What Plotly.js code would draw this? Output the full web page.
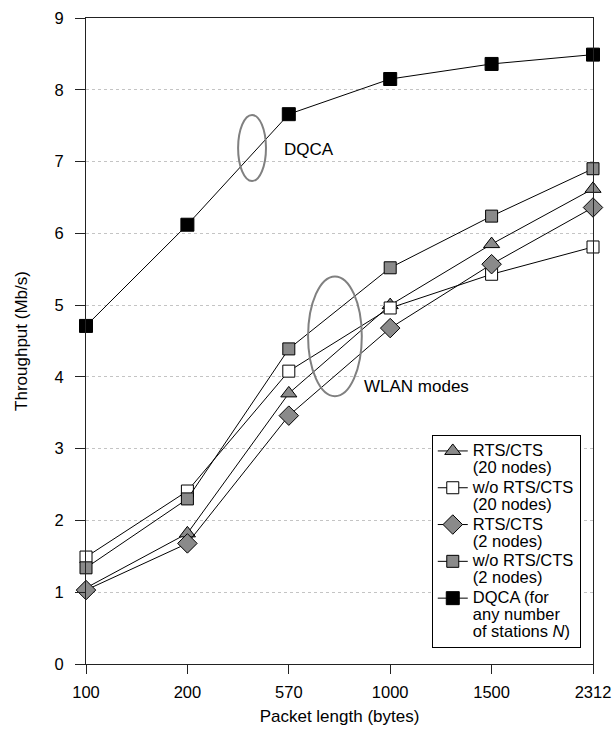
<!DOCTYPE html>
<html>
<head>
<meta charset="utf-8">
<script src="https://cdn.plot.ly/plotly-3.0.1.min.js"></script>
<style>html,body{margin:0;padding:0;background:#fff;}#chart{width:615px;height:729px;}</style>
</head>
<body>
<div id="chart"></div>
<script>
const packetLengths = ['100', '200', '570', '1000', '1500', '2312'];
const rtsCts20 = [1.06, 1.82, 3.77, 5.0, 5.85, 6.62];
const noRtsCts20 = [1.49, 2.41, 4.08, 4.96, 5.43, 5.81];
const rtsCts2 = [1.03, 1.68, 3.46, 4.68, 5.57, 6.36];
const noRtsCts2 = [1.34, 2.30, 4.39, 5.52, 6.24, 6.90];
const dqca = [4.71, 6.12, 7.66, 8.15, 8.36, 8.49];
const yTicks = [0, 1, 2, 3, 4, 5, 6, 7, 8, 9];
const seriesLabels = [
  ['RTS/CTS', '(20 nodes)'],
  ['w/o RTS/CTS', '(20 nodes)'],
  ['RTS/CTS', '(2 nodes)'],
  ['w/o RTS/CTS', '(2 nodes)'],
  ['DQCA (for', 'any number', 'of stations <i>N</i>)']
];

const gray = '#8a8a8a';
function label(lines) {
  return lines.map(l => '<span style="font-size:16.5px">' + l + '</span>').join('<br>');
}
function tr(idx, y, symbol, fill, size) {
  return {
    x: packetLengths, y: y, name: label(seriesLabels[idx]), type: 'scatter', mode: 'lines+markers',
    cliponaxis: false,
    line: {color: '#000', width: 1},
    marker: {symbol: symbol, color: fill, size: size, line: {color: '#000', width: 1}}
  };
}
const data = [
  tr(0, rtsCts20, 'triangle-up', gray, 14),
  tr(1, noRtsCts20, 'square', '#fff', 12),
  tr(2, rtsCts2, 'diamond', gray, 15),
  tr(3, noRtsCts2, 'square', gray, 12),
  tr(4, dqca, 'square', '#000', 13)
];

const layout = {
  width: 615, height: 729,
  margin: {l: 86, r: 22, t: 18, b: 65},
  paper_bgcolor: '#fff', plot_bgcolor: '#fff',
  font: {family: 'Liberation Sans, Arial, sans-serif', size: 16, color: '#000'},
  showlegend: true,
  legend: {
    x: 0.682, y: 0.3545, xanchor: 'left', yanchor: 'top',
    bgcolor: '#fff', bordercolor: '#000', borderwidth: 1,
    font: {size: 13}, valign: 'top', tracegroupgap: 0, itemwidth: 30
  },
  xaxis: {
    type: 'category', range: [0, 5],
    showline: true, linecolor: '#222', linewidth: 1, mirror: true,
    ticks: 'outside', ticklen: 9, tickcolor: '#222', ticklabelstandoff: 4,
    showgrid: false, zeroline: false,
    tickfont: {size: 16.5},
    title: {text: 'Packet length (bytes)', font: {size: 17}, standoff: 10}
  },
  yaxis: {
    range: [0, 9], tickvals: yTicks,
    showline: true, linecolor: '#222', linewidth: 1, mirror: true,
    ticks: 'outside', ticklen: 10, tickcolor: '#222', ticklabelstandoff: 8,
    showgrid: true, gridcolor: '#c4c4c4', griddash: 'dot', gridwidth: 1,
    zeroline: false,
    tickfont: {size: 16.5},
    title: {text: 'Throughput (Mb/s)', font: {size: 17}, standoff: 22}
  },
  shapes: [
    {type: 'circle', xref: 'x', yref: 'y', x0: 1.50, x1: 1.775, y0: 6.73, y1: 7.65,
     line: {color: '#808080', width: 2}},
    {type: 'circle', xref: 'x', yref: 'y', x0: 2.19, x1: 2.72, y0: 3.73, y1: 5.40,
     line: {color: '#808080', width: 2}}
  ],
  annotations: [
    {text: 'DQCA', xref: 'x', yref: 'y', x: 1.933, y: 7.17, xanchor: 'left', yanchor: 'middle',
     showarrow: false, font: {size: 17}},
    {text: 'WLAN modes', xref: 'x', yref: 'y', x: 2.72, y: 3.86, xanchor: 'left', yanchor: 'middle',
     showarrow: false, font: {size: 17}}
  ]
};
Plotly.newPlot('chart', data, layout, {displayModeBar: false, staticPlot: true});
</script>
</body>
</html>
